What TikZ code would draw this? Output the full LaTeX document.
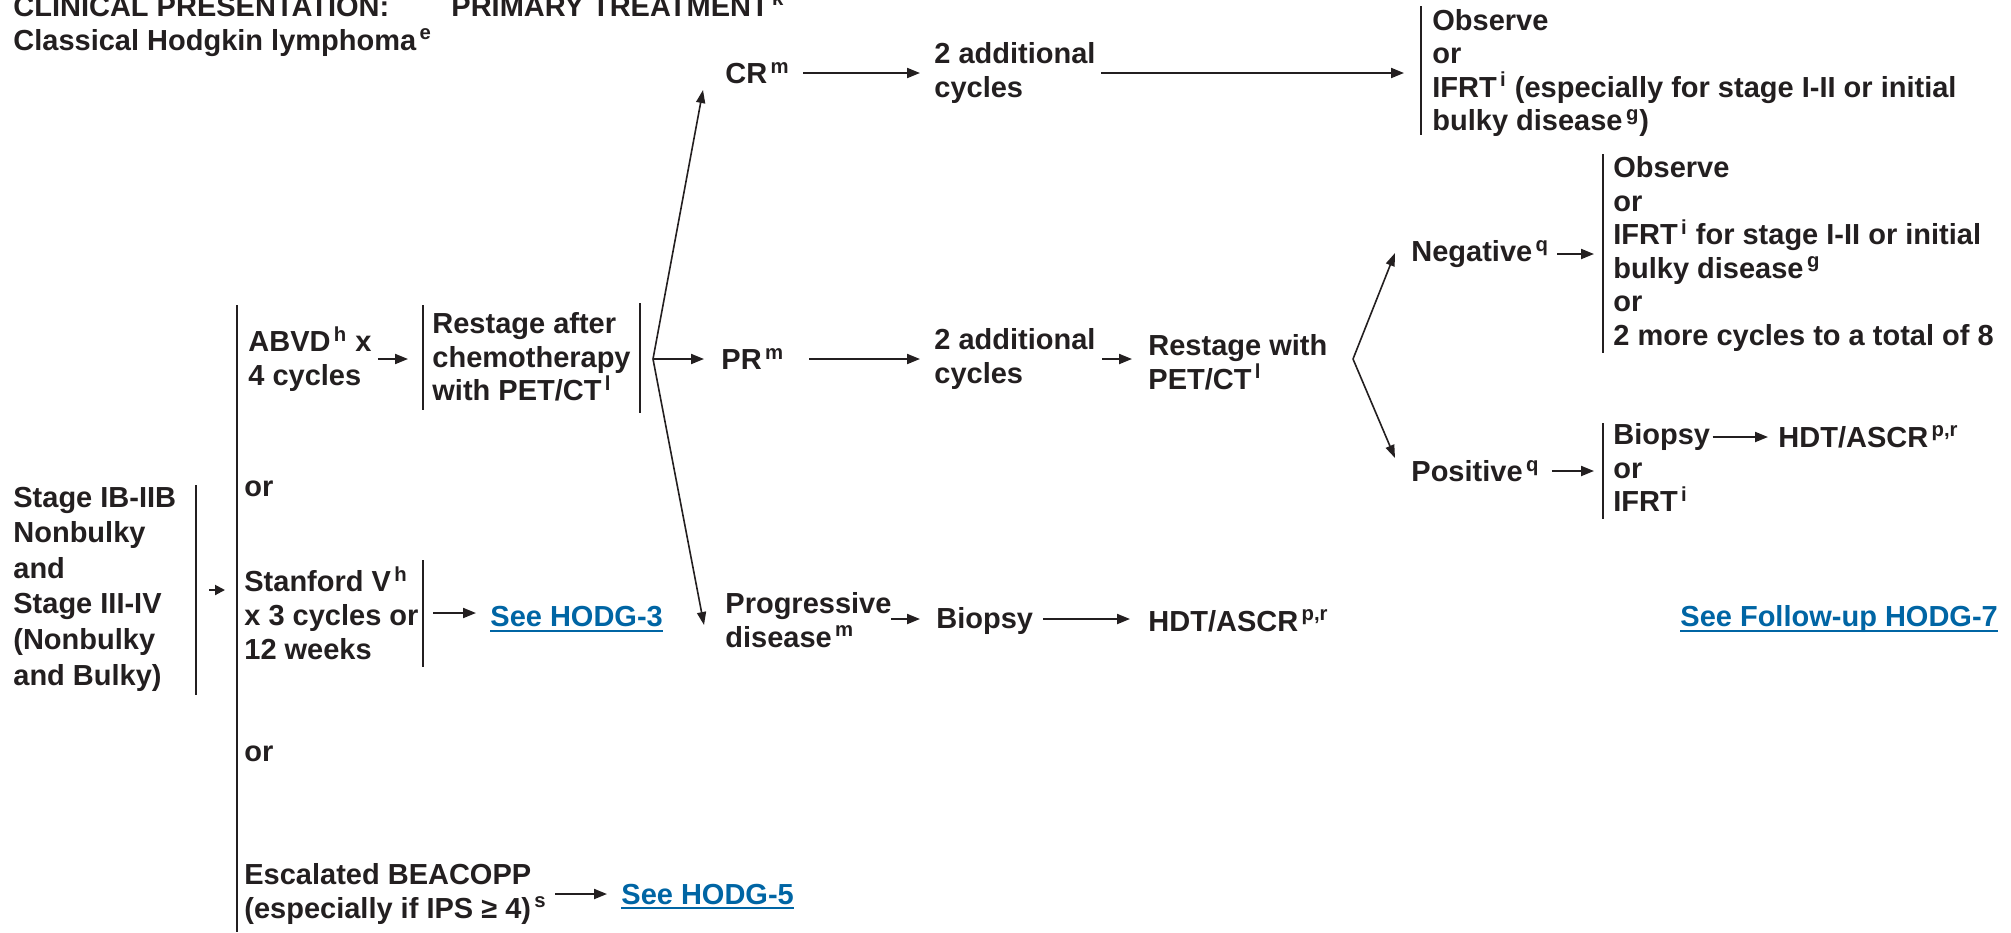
\documentclass[tikz,border=0pt]{standalone}
\usepackage{fontspec}
\setmainfont{Liberation Sans}
\usetikzlibrary{arrows.meta}
\definecolor{ink}{RGB}{35,31,32}
\definecolor{linkblue}{RGB}{0,101,164}
\newcommand{\supx}[1]{\textsuperscript{\,#1}}
\begin{document}
\begin{tikzpicture}[x=0.5pt,y=-0.5pt,
  txt/.style={font=\bfseries\fontsize{14.5}{16.8}\selectfont, inner sep=0pt, align=left, anchor=west, text=ink},
  lnk/.style={txt, text=linkblue},
  bar/.style={draw=ink, line width=1.2pt},
  arr/.style={draw=ink, line width=1pt, -{Triangle[length=6.5pt,width=5pt]}},
  diag/.style={draw=ink, line width=0.8pt, -{Triangle[length=6.5pt,width=4.5pt]}},
  uline/.style={draw=linkblue, line width=1pt}]
\useasboundingbox (0,0) rectangle (2011,932);

% headers
\node[txt, anchor=base west] (hdrA) at (13,16) {CLINICAL PRESENTATION:};
\node[txt, anchor=base west] (hdrB) at (451,16) {PRIMARY TREATMENT\supx{k}};
\node[txt, anchor=base west] (hdrC) at (13,50) {Classical Hodgkin lymphoma\supx{e}};

% left presentation
\node[txt, font=\bfseries\fontsize{14.5}{17.8}\selectfont] (stage) at (13,589) {Stage IB-IIB\\Nonbulky\\and\\Stage III-IV\\(Nonbulky\\and Bulky)};
\coordinate (b1t) at (196,485); \coordinate (b1b) at (196,695);
\draw[bar] (b1t) -- (b1b);
\coordinate (sa1) at (209,590); \coordinate (sa2) at (225,590);
\draw[draw=ink, line width=1pt, -{Triangle[length=5pt,width=5pt]}] (sa1) -- (sa2);
\coordinate (b2t) at (237,305); \coordinate (b2b) at (237,932);
\draw[bar] (b2t) -- (b2b);

% options
\node[txt] (abvd) at (248,359) {ABVD\supx{h} x\\4 cycles};
\coordinate (b3t) at (423,305); \coordinate (b3b) at (423,410);
\draw[bar] (b3t) -- (b3b);
\coordinate (a2) at (408,359);
\draw[arr] ([xshift=3pt]abvd.east |- a2) -- (a2);
\node[txt] (restage) at (432,357) {Restage after\\chemotherapy\\with PET/CT\supx{l}};
\coordinate (b4t) at (640,303); \coordinate (b4b) at (640,413);
\draw[bar] (b4t) -- (b4b);

\node[txt] (or1) at (244,489) {or};
\node[txt] (stan) at (244,613) {Stanford V\supx{h}\\x 3 cycles or\\12 weeks};
\coordinate (b5t) at (423,560); \coordinate (b5b) at (423,667);
\draw[bar] (b5t) -- (b5b);
\node[lnk] (hodg3) at (490,617) {See HODG-3};
\draw[uline] ([yshift=-2.2pt]hodg3.base west) -- ([yshift=-2.2pt]hodg3.base east);
\coordinate (s3) at (433,613);
\draw[arr] (s3) -- ([xshift=-7pt]hodg3.west |- s3);

\node[txt] (or2) at (244,754) {or};
\node[txt] (esc) at (244,894) {Escalated BEACOPP\\(especially if IPS ≥ 4)\supx{s}};
\node[lnk] (hodg5) at (621,894) {See HODG-5};
\draw[uline] ([yshift=-2.2pt]hodg5.base west) -- ([yshift=-2.2pt]hodg5.base east);
\coordinate (e5) at (555,894);
\draw[arr] (e5) -- ([xshift=-7pt]hodg5.west);

% responses
\coordinate (br1) at (653,359);
\node[txt] (cr) at (725,73) {CR\supx{m}};
\node[txt] (pr) at (721,359) {PR\supx{m}};
\node[txt] (prog) at (725,620) {Progressive\\disease\supx{m}};
\coordinate (crT) at (703,90);
\coordinate (prT) at (704,359);
\coordinate (pgT) at (704,625);
\draw[diag] (br1) -- (crT);
\draw[arr] (br1) -- (prT);
\draw[diag] (br1) -- (pgT);

% CR row
\node[txt] (add1) at (934,73) {2 additional\\cycles};
\coordinate (c1) at (803,73);
\draw[arr] (c1) -- ([xshift=-7pt]add1.west);
\coordinate (b6t) at (1421,6); \coordinate (b6b) at (1421,135);
\draw[bar] (b6t) -- (b6b);
\coordinate (c2) at (1101,73); \coordinate (c3) at (1404,73);
\draw[arr] (c2) -- (c3);
\node[txt] (crout) at (1432,73) {Observe\\or\\IFRT\supx{i} (especially for stage I-II or initial\\bulky disease\supx{g})};

% PR row
\node[txt] (add2) at (934,359) {2 additional\\cycles};
\coordinate (p1) at (809,359);
\draw[arr] (p1) -- ([xshift=-7pt]add2.west);
\node[txt] (rest2) at (1148,362) {Restage with\\PET/CT\supx{l}};
\coordinate (p2) at (1102,359);
\draw[arr] (p2) -- ([xshift=-8pt]rest2.west |- p2);
\coordinate (br2) at (1353,359);
\coordinate (ngT) at (1395,253);
\coordinate (psT) at (1395,458);
\draw[diag] (br2) -- (ngT);
\draw[diag] (br2) -- (psT);

\node[txt] (neg) at (1411,254) {Negative\supx{q}};
\coordinate (b7t) at (1603,154); \coordinate (b7b) at (1603,353);
\draw[bar] (b7t) -- (b7b);
\coordinate (n2) at (1594,254);
\draw[arr] ([xshift=4pt]neg.east |- n2) -- (n2);
\node[txt] (negout) at (1613,254) {Observe\\or\\IFRT\supx{i} for stage I-II or initial\\bulky disease\supx{g}\\or\\2 more cycles to a total of 8};

\node[txt] (pos) at (1411,471) {Positive\supx{q}};
\coordinate (b8t) at (1603,423); \coordinate (b8b) at (1603,519);
\draw[bar] (b8t) -- (b8b);
\coordinate (q2) at (1594,471);
\draw[arr] ([xshift=6pt]pos.east |- q2) -- (q2);
\node[txt] (bio2) at (1613,437) {Biopsy};
\node[txt] (posor) at (1613,487) {or\\IFRT\supx{i}};
\node[txt] (hdt2) at (1778,437) {HDT/ASCR\supx{p,r}};
\draw[arr] ([xshift=1pt]bio2.east) -- ([xshift=-5pt]hdt2.west);

\node[lnk] (fu) at (1680,619) {See Follow-up HODG-7};
\draw[uline] ([yshift=-2.2pt]fu.base west) -- ([yshift=-2.2pt]fu.base east);

% progressive row
\node[txt] (bio1) at (936,621) {Biopsy};
\node[txt] (hdt1) at (1148,621) {HDT/ASCR\supx{p,r}};
\coordinate (g1) at (891,619);
\draw[arr] (g1) -- ([xshift=-8pt]bio1.west |- g1);
\coordinate (g2) at (1043,619);
\draw[arr] (g2) -- ([xshift=-9pt]hdt1.west |- g2);
\end{tikzpicture}
\end{document}
